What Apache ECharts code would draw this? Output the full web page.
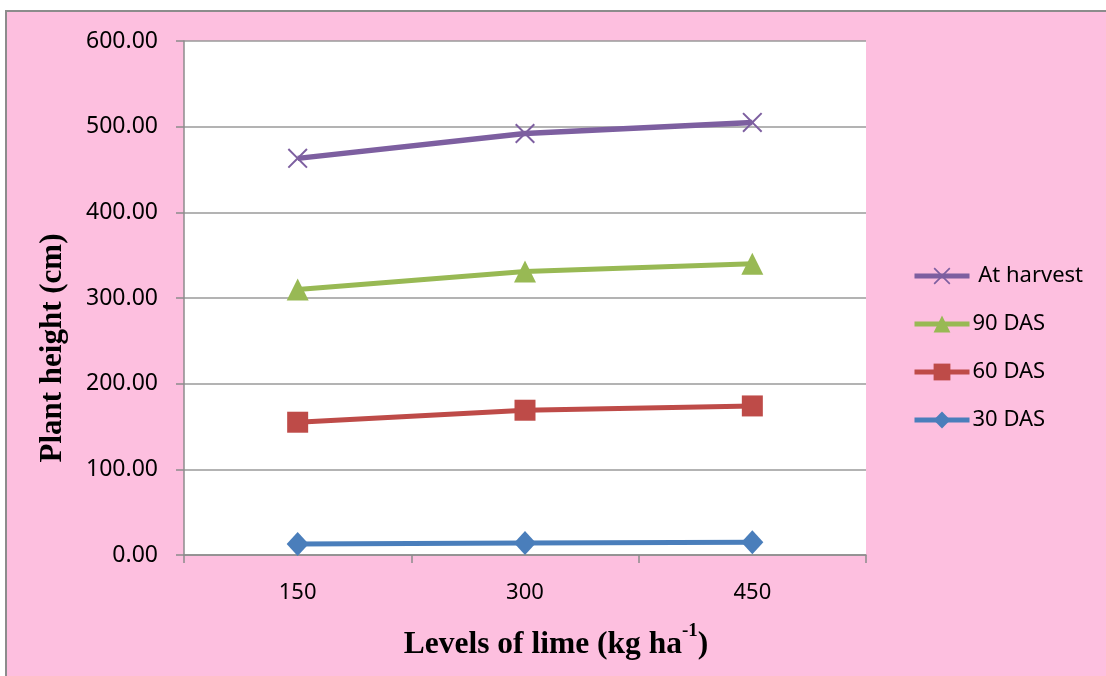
<!DOCTYPE html>
<html>
<head>
<meta charset="utf-8">
<script src="https://cdn.jsdelivr.net/npm/echarts@6/dist/echarts.min.js"></script>
<style>
  html, body { margin: 0; padding: 0; background: #ffffff; }
  #wrap { position: relative; width: 1106px; height: 676px; overflow: hidden; background: #ffffff; }
  #panel { position: absolute; left: 5px; top: 10px; width: 1110px; height: 680px;
           background: #fdbfdf; border: 2px solid #8c8c8c; box-sizing: border-box; }
  #chart { position: absolute; left: 0; top: 0; width: 1106px; height: 676px; }
</style>
</head>
<body>
<div id="wrap">
  <div id="panel"></div>
  <div id="chart"></div>
</div>
<script>
// Lime levels (kg/ha) and plant height (cm) at each growth stage
const limeLevels = ['150', '300', '450'];
const das30 = [12.8, 14.0, 14.8];
const das60 = [155, 169, 174];
const das90 = [310, 331, 340];
const atHarvest = [463, 492, 505];
const yTicks = { min: 0, max: 600, step: 100 };

const crossPath = 'path://M0,0.7L0.7,0L5,4.3L9.3,0L10,0.7L5.7,5L10,9.3L9.3,10L5,5.7L0.7,10L0,9.3L4.3,5Z';

const chart = echarts.init(document.getElementById('chart'), null, { renderer: 'canvas' });

function lineSeries(name, data, color, symbol, size, width) {
  return {
    name: name,
    type: 'line',
    data: data,
    symbol: symbol,
    symbolSize: size,
    showSymbol: true,
    lineStyle: { color: color, width: width },
    itemStyle: { color: color },
    emphasis: { disabled: true },
    animation: false
  };
}

chart.setOption({
  backgroundColor: 'transparent',
  animation: false,
  textStyle: { fontFamily: 'Noto Sans' },
  grid: {
    left: 184, right: 240, top: 41, bottom: 121,
    show: true, backgroundColor: '#ffffff', borderWidth: 0
  },
  xAxis: {
    type: 'category',
    data: limeLevels,
    boundaryGap: true,
    axisLine: { show: true, lineStyle: { color: '#8c8c8c', width: 1.5 } },
    axisTick: { show: true, length: 8, lineStyle: { color: '#8c8c8c', width: 1.5 } },
    axisLabel: { margin: 27, fontSize: 22, color: '#000', fontFamily: 'Noto Sans' },
    splitLine: { show: false }
  },
  yAxis: {
    type: 'value',
    min: yTicks.min, max: yTicks.max, interval: yTicks.step,
    axisLine: { show: true, lineStyle: { color: '#8c8c8c', width: 1.5 } },
    axisTick: { show: true, length: 8, lineStyle: { color: '#8c8c8c', width: 1.5 } },
    axisLabel: {
      margin: 26, fontSize: 23, color: '#000', fontFamily: 'Noto Sans',
      formatter: v => v.toFixed(2)
    },
    splitLine: { show: true, lineStyle: { color: '#9a9a9a', width: 1.5 } }
  },
  legend: {
    orient: 'vertical',
    left: 907, top: 260,
    itemWidth: 55, itemHeight: 21, itemGap: 26,
    data: ['At harvest', '90 DAS', '60 DAS', '30 DAS'],
    lineStyle: { width: 5 },
    textStyle: { fontSize: 22, color: '#000', fontFamily: 'Noto Sans', padding: [0, 0, 0, -2] },
    formatter: n => (n === 'At harvest' ? ' ' + n : n),
    selectedMode: false
  },
  series: [
    lineSeries('30 DAS', das30, '#4a7ebb', 'diamond', [22, 24], 5),
    lineSeries('60 DAS', das60, '#be4b48', 'rect', 21, 5),
    lineSeries('90 DAS', das90, '#98b954', 'triangle', [22, 22], 5),
    lineSeries('At harvest', atHarvest, '#7d5fa0', crossPath, 20, 5.5)
  ],
  graphic: [
    {
      type: 'text',
      x: 53, y: 348, rotation: Math.PI / 2,
      style: {
        text: 'Plant height (cm)',
        font: 'bold 31px "Liberation Serif", "Times New Roman", serif',
        fill: '#000', align: 'center', verticalAlign: 'middle'
      }
    },
    {
      type: 'text',
      x: 556, y: 638,
      style: {
        text: '{t|Levels of lime (kg ha}{s|-1}{t|)}',
        align: 'center', verticalAlign: 'middle',
        rich: {
          t: { font: 'bold 31.5px "Liberation Serif", serif', fill: '#000', verticalAlign: 'bottom', height: 36 },
          s: { font: 'bold 19px "Liberation Serif", serif', fill: '#000', verticalAlign: 'bottom', height: 36, padding: [0, 0, 13, 0] }
        }
      }
    }
  ]
});
</script>
</body>
</html>
